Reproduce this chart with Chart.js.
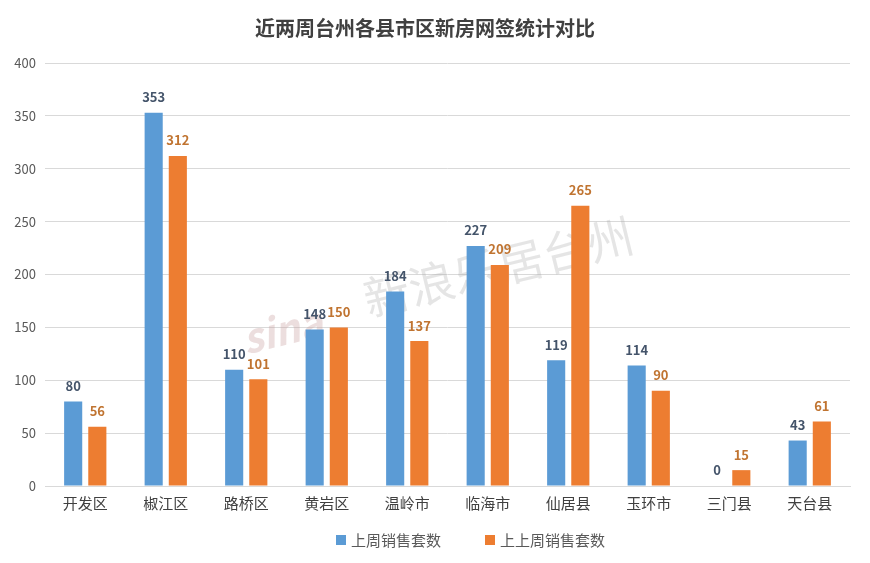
<!DOCTYPE html>
<html>
<head>
<meta charset="utf-8">
<script src="https://cdn.jsdelivr.net/npm/chart.js@4/dist/chart.umd.min.js"></script>
<style>
    html, body { margin: 0; padding: 0; background: #ffffff; }
    #wrap { width: 870px; height: 563px; position: relative; }
    #legend { position: absolute; left: 336px; top: 529px; display: flex; font-family: "Noto Sans CJK SC", sans-serif; font-size: 15px; color: #595959; line-height: 22px; }
    #legend .item { display: flex; align-items: center; margin-right: 44px; }
    #legend .box { width: 10px; height: 10px; margin-right: 5px; }
</style>
</head>
<body>
<div id="wrap"><canvas id="statsChart"></canvas><div id="legend"></div></div>
<script>
// chart data
const districts = ['开发区', '椒江区', '路桥区', '黄岩区', '温岭市', '临海市', '仙居县', '玉环市', '三门县', '天台县'];
const lastWeek = [80, 353, 110, 148, 184, 227, 119, 114, 0, 43];
const weekBefore = [56, 312, 101, 150, 137, 209, 265, 90, 15, 61];
const seriesNames = ['上周销售套数', '上上周销售套数'];
const yTicks = [0, 50, 100, 150, 200, 250, 300, 350, 400];

const FONT = '"Microsoft YaHei", "Noto Sans CJK SC", sans-serif';

// value labels above each bar
const valueLabels = {
    id: 'valueLabels',
    afterDatasetsDraw(chart) {
        const ctx = chart.ctx;
        const labelColors = ['#44546a', '#c07431'];
        ctx.save();
        ctx.font = 'bold 13px ' + FONT;
        ctx.textAlign = 'center';
        ctx.textBaseline = 'bottom';
        chart.data.datasets.forEach((ds, i) => {
            const meta = chart.getDatasetMeta(i);
            ctx.fillStyle = labelColors[i];
            meta.data.forEach((bar, j) => {
                ctx.fillText(ds.data[j], bar.x, bar.y - 9);
            });
        });
        ctx.restore();
    }
};

// faint watermark
const watermark = {
    id: 'watermark',
    beforeDatasetsDraw(chart) {
        const ctx = chart.ctx;
        ctx.save();
        ctx.translate(445, 280);
        ctx.rotate(-0.24);
        ctx.textAlign = 'center';
        ctx.textBaseline = 'middle';
        ctx.fillStyle = 'rgba(200,160,160,0.35)';
        ctx.font = 'bold italic 40px ' + FONT;
        ctx.fillText('sina', -170, 10);
        ctx.fillStyle = 'rgba(170,170,170,0.3)';
        ctx.font = '46px ' + FONT;
        ctx.fillText('新浪乐居台州', 55, 0);
        ctx.restore();
    }
};

const chart = new Chart(document.getElementById('statsChart'), {
    type: 'bar',
    data: {
        labels: districts,
        datasets: [{
            label: seriesNames[0],
            data: lastWeek,
            backgroundColor: '#5b9bd5',
            categoryPercentage: 0.6,
            barPercentage: 0.75
        }, {
            label: seriesNames[1],
            data: weekBefore,
            backgroundColor: '#ed7d31',
            categoryPercentage: 0.6,
            barPercentage: 0.75
        }]
    },
    options: {
        responsive: true,
        maintainAspectRatio: false,
        animation: false,
        layout: { padding: { left: 0, right: 20, top: 10, bottom: 44 } },
        plugins: {
            title: {
                display: true,
                text: '近两周台州各县市区新房网签统计对比',
                color: '#404040',
                font: { family: FONT, size: 20, weight: 'bold' },
                padding: { top: 6, bottom: 23 }
            },
            legend: { display: false },
            tooltip: { enabled: false }
        },
        scales: {
            x: {
                grid: { display: false },
                border: { color: '#d9d9d9' },
                afterFit: axis => { axis.height = 33; },
                ticks: { color: '#404040', padding: 0, font: { family: FONT, size: 15 } }
            },
            y: {
                min: 0,
                max: 400,
                afterBuildTicks: axis => { axis.ticks = yTicks.map(v => ({ value: v })); },
                afterFit: axis => { axis.width = 45; },
                grid: { color: '#d9d9d9', drawTicks: false },
                border: { display: false },
                ticks: { color: '#595959', font: { family: FONT, size: 13 }, padding: 9 }
            }
        }
    },
    plugins: [valueLabels, watermark]
});

// legend built from the chart's datasets
const legendEl = document.getElementById('legend');
chart.data.datasets.forEach(ds => {
    const item = document.createElement('div');
    item.className = 'item';
    item.innerHTML = `<span class="box" style="background:${ds.backgroundColor}"></span><span>${ds.label}</span>`;
    legendEl.appendChild(item);
});
</script>
</body>
</html>
